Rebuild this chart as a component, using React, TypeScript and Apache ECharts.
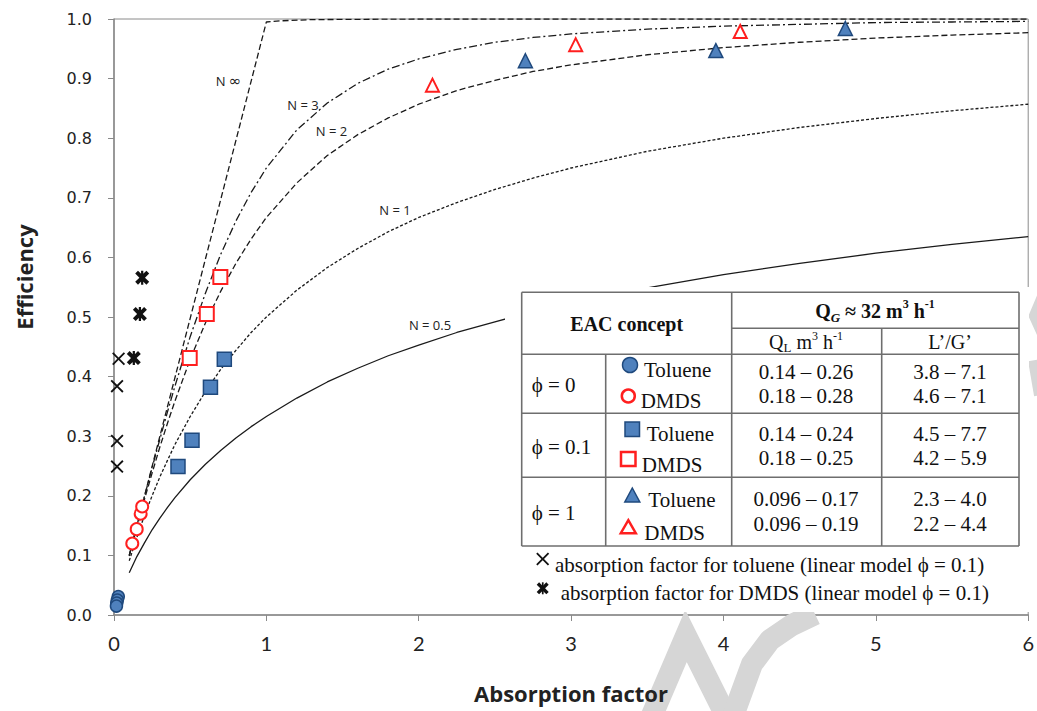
import React, { useEffect, useRef } from "react";
import * as echarts from "echarts";

// ---------- data ----------
const absorptionFactor = [0.1, 0.15, 0.2, 0.25, 0.3, 0.35, 0.4, 0.5, 0.6, 0.7, 0.8, 0.9, 1, 1.2, 1.4, 1.6, 1.8, 2, 2.25, 2.5, 2.75, 3, 3.5, 4, 4.5, 5, 5.5, 6];
const effN05 = [0.071, 0.098, 0.121, 0.143, 0.162, 0.18, 0.197, 0.227, 0.253, 0.276, 0.297, 0.316, 0.333, 0.364, 0.391, 0.414, 0.435, 0.453, 0.474, 0.492, 0.509, 0.523, 0.549, 0.571, 0.59, 0.607, 0.622, 0.635];
const effN1 = [0.091, 0.13, 0.167, 0.2, 0.231, 0.259, 0.286, 0.333, 0.375, 0.412, 0.444, 0.474, 0.5, 0.545, 0.583, 0.615, 0.643, 0.667, 0.692, 0.714, 0.733, 0.75, 0.778, 0.8, 0.818, 0.833, 0.846, 0.857];
const effN2 = [0.099, 0.147, 0.194, 0.238, 0.281, 0.321, 0.359, 0.429, 0.49, 0.543, 0.59, 0.631, 0.667, 0.725, 0.771, 0.806, 0.834, 0.857, 0.88, 0.897, 0.912, 0.923, 0.94, 0.952, 0.961, 0.968, 0.973, 0.977];
const effN3 = [0.1, 0.15, 0.199, 0.247, 0.294, 0.34, 0.384, 0.467, 0.54, 0.605, 0.661, 0.709, 0.75, 0.814, 0.859, 0.892, 0.916, 0.933, 0.949, 0.961, 0.969, 0.975, 0.983, 0.988, 0.991, 0.994, 0.995, 0.996];
const absInf = [0.1, 1.0, 1.1, 1.3, 2, 6];
const effInf = [0.1, 0.995, 0.997, 0.999, 1, 1];

const tolPhi0 = [[0.028, 0.031], [0.022, 0.025], [0.018, 0.02], [0.016, 0.015]];
const dmdsPhi0 = [[0.12, 0.12], [0.149, 0.144], [0.175, 0.17], [0.185, 0.182]];
const tolPhi01 = [[0.42, 0.249], [0.512, 0.293], [0.633, 0.382], [0.724, 0.429]];
const dmdsPhi01 = [[0.497, 0.431], [0.609, 0.505], [0.698, 0.567]];
const tolPhi1 = [[2.7, 0.93], [3.95, 0.947], [4.8, 0.984]];
const dmdsPhi1 = [[2.09, 0.889], [3.03, 0.957], [4.11, 0.979]];
const tolLinear = [[0.03, 0.43], [0.02, 0.384], [0.02, 0.292], [0.02, 0.249]];
const dmdsLinear = [[0.13, 0.431], [0.17, 0.505], [0.185, 0.566]];

const xTicks = [0, 1, 2, 3, 4, 5, 6];
const curveLabels = ["{n|N }{i|\u221E}", "N = 3", "N = 2", "N = 1", "N = 0.5"];

const tableRows = [
  { phi: "\u03D5 = 0", ql: ["0.14 \u2013 0.26", "0.18 \u2013 0.28"], lg: ["3.8 \u2013 7.1", "4.6 \u2013 7.1"] },
  { phi: "\u03D5 = 0.1", ql: ["0.14 \u2013 0.24", "0.18 \u2013 0.25"], lg: ["4.5 \u2013 7.7", "4.2 \u2013 5.9"] },
  { phi: "\u03D5 = 1", ql: ["0.096 \u2013 0.17", "0.096 \u2013 0.19"], lg: ["2.3 \u2013 4.0", "2.2 \u2013 4.4"] },
];
const legendNotes = [
  "absorption factor for toluene (linear model \u03D5 = 0.1)",
  "absorption factor for DMDS (linear model \u03D5 = 0.1)",
];

// ---------- styles ----------
const BLUE = "#4F81BD";
const BLUE_DARK = "#1F497D";
const RED = "#FF1F1F";
const LINE = "#1a1a1a";
const SERIF = "'Liberation Serif', 'Times New Roman', serif";
const SANS = "'Open Sans', sans-serif";

const X_THIN = "path://M0,1L1,0L5,4L9,0L10,1L6,5L10,9L9,10L5,6L1,10L0,9L4,5Z";
const X_BOLD = "path://M0,2L2,0L5,3L8,0L10,2L7,5L10,8L8,10L5,7L2,10L0,8L3,5Z M4.2,0L5.8,0L5.8,10L4.2,10Z";
const X_THIN_PTS = [[0, 1], [1, 0], [5, 4], [9, 0], [10, 1], [6, 5], [10, 9], [9, 10], [5, 6], [1, 10], [0, 9], [4, 5]];
const X_BOLD_PTS = [[0, 2], [2, 0], [5, 3], [8, 0], [10, 2], [7, 5], [10, 8], [8, 10], [5, 7], [2, 10], [0, 8], [3, 5]];

function zip(xs: number[], ys: number[]) {
  return xs.map((x, i) => [x, ys[i]]);
}

function txt(text: string, x: number, y: number, o: any = {}) {
  const align = o.align || "left";
  return {
    type: "text",
    x,
    y,
    z: 60,
    rotation: o.rotation || 0,
    style: {
      text,
      fill: o.fill || "#111",
      fontSize: o.size || 21,
      fontFamily: o.family || SERIF,
      fontWeight: o.weight || "normal",
      align,
      textAlign: align,
      verticalAlign: "middle",
      textVerticalAlign: "middle",
      rich: o.rich,
    },
  };
}
function ln(x1: number, y1: number, x2: number, y2: number) {
  return {
    type: "line",
    z: 60,
    shape: { x1, y1, x2, y2 },
    style: { stroke: "#6e6e6e", lineWidth: 1.6 },
  };
}
function polyX(cx: number, cy: number, size: number, pts: number[][]) {
  return {
    type: "polygon",
    z: 60,
    shape: { points: pts.map(([px, py]) => [cx - size / 2 + (px * size) / 10, cy - size / 2 + (py * size) / 10]) },
    style: { fill: "#111" },
  };
}
function tri(cx: number, cy: number, w: number, h: number, fill: string, stroke: string, lw: number) {
  return {
    type: "polygon",
    z: 60,
    shape: { points: [[cx, cy - h / 2], [cx + w / 2, cy + h / 2], [cx - w / 2, cy + h / 2]] },
    style: { fill, stroke, lineWidth: lw },
  };
}

export default function App() {
  const ref = useRef<HTMLDivElement>(null);
  useEffect(() => {
    if (!ref.current) return;
    const chart = echarts.init(ref.current, null, { renderer: "svg" });

    const lineSeries = (name: string, data: number[][], type: any) => ({
      name,
      type: "line",
      data,
      symbol: "none",
      smooth: false,
      z: 2,
      lineStyle: { color: LINE, width: 1.3, type },
    });
    const scat = (name: string, data: number[][], symbol: string, size: number, fill: string, stroke: string, bw: number) => ({
      name,
      type: "scatter",
      data,
      symbol,
      symbolSize: size,
      z: 5,
      itemStyle: { color: fill, borderColor: stroke, borderWidth: bw, opacity: 1 },
    });

    // ---- table graphic ----
    const L = 521.7, R = 1019, T = 292.3, B = 546;
    const c1 = 605.7, c2 = 731.7, c3 = 881.7;
    const h1 = 328.3, h2 = 354.3, r1 = 413.3, r2 = 477.3;
    const rowPhiY = [385.3, 447.3, 512.7];
    const tolY = [370, 434, 500];
    const tolX = [644, 646.7, 648.3];
    const dmY = [400.7, 465, 533.3];
    const dmX = [640.7, 641.7, 644.3];
    const valY = [[371.7, 396], [434, 458.3], [499.3, 523.7]];

    const g: any[] = [];
    // watermark fragments
    const WM = "#d6d6d6";
    g.push({ type: "polyline", z: 1, shape: { points: [[650, 720], [686, 636], [728, 720]] }, style: { stroke: WM, lineWidth: 22, fill: null, lineJoin: "miter" } });
    g.push({ type: "polyline", z: 1, shape: { points: [[733, 716], [752, 664], [770, 640], [792, 625], [815, 614]] }, style: { stroke: WM, lineWidth: 22, fill: null, lineJoin: "round" } });
    g.push({ type: "polyline", z: 1, shape: { points: [[1046, 292], [1036, 316], [1046, 338]] }, style: { stroke: WM, lineWidth: 14, fill: null } });
    g.push({ type: "polyline", z: 1, shape: { points: [[1035, 360], [1041, 395]] }, style: { stroke: WM, lineWidth: 14, fill: null } });

    g.push({ type: "rect", z: 55, shape: { x: 505, y: 287, width: 524, height: 325 }, style: { fill: "#fff" } });
    g.push(ln(L, T, R, T), ln(L, B, R, B), ln(L, T, L, B), ln(R, T, R, B));
    g.push(ln(c2, h1, R, h1), ln(L, h2, R, h2), ln(L, r1, R, r1), ln(L, r2, R, r2));
    g.push(ln(c1, h2, c1, B), ln(c2, T, c2, B), ln(c3, h1, c3, B));

    g.push(txt("EAC concept", 626.7, 323.5, { weight: "bold", size: 20, align: "center" }));
    g.push(
      txt("{b|Q}{bs|G}{b| \u2248 32 m}{bp|3}{b| h}{bp|-1}", 875, 311, {
        align: "center",
        rich: {
          b: { fontFamily: SERIF, fontWeight: "bold", fontSize: 20, lineHeight: 26, verticalAlign: "middle" },
          bs: { fontFamily: SERIF, fontWeight: "bold", fontStyle: "italic", fontSize: 13, lineHeight: 13, verticalAlign: "bottom" },
          bp: { fontFamily: SERIF, fontWeight: "bold", fontSize: 12, lineHeight: 12, verticalAlign: "top" },
        },
      })
    );
    g.push(
      txt("{r|Q}{s|L}{r| m}{p|3}{r| h}{p|-1}", 806, 341.7, {
        align: "center",
        rich: {
          r: { fontFamily: SERIF, fontSize: 20, lineHeight: 24, verticalAlign: "middle" },
          s: { fontFamily: SERIF, fontSize: 13, lineHeight: 12, verticalAlign: "bottom" },
          p: { fontFamily: SERIF, fontSize: 12, lineHeight: 12, verticalAlign: "top" },
        },
      })
    );
    g.push(txt("L\u2019/G\u2019", 950, 341.7, { align: "center", size: 20 }));

    tableRows.forEach((row, i) => {
      g.push(txt(row.phi, 531.7, rowPhiY[i]));
      g.push(txt("Toluene", tolX[i], tolY[i]));
      g.push(txt("DMDS", dmX[i], dmY[i]));
      g.push(txt(row.ql[0], 806, valY[i][0], { align: "center" }));
      g.push(txt(row.ql[1], 806, valY[i][1], { align: "center" }));
      g.push(txt(row.lg[0], 950, valY[i][0], { align: "center" }));
      g.push(txt(row.lg[1], 950, valY[i][1], { align: "center" }));
    });
    // table icons
    g.push({ type: "circle", z: 60, shape: { cx: 630, cy: 365, r: 7.5 }, style: { fill: BLUE, stroke: BLUE_DARK, lineWidth: 1.5 } });
    g.push({ type: "circle", z: 60, shape: { cx: 628.3, cy: 396, r: 6.5 }, style: { fill: "#fff", stroke: RED, lineWidth: 2.5 } });
    g.push({ type: "rect", z: 60, shape: { x: 625, y: 422, width: 14.5, height: 14.5 }, style: { fill: BLUE, stroke: BLUE_DARK, lineWidth: 1.5 } });
    g.push({ type: "rect", z: 60, shape: { x: 621, y: 452, width: 14.5, height: 14 }, style: { fill: "#fff", stroke: RED, lineWidth: 2.5 } });
    g.push(tri(632.3, 495, 15, 14, BLUE, BLUE_DARK, 1.5));
    g.push(tri(628.3, 526.7, 15, 13, "#fff", RED, 2.5));
    // legend notes
    g.push(polyX(542.7, 559, 13, X_THIN_PTS));
    g.push(polyX(542.7, 588.3, 12, X_BOLD_PTS));
    g.push({ type: "rect", z: 60, shape: { x: 541.9, y: 582.3, width: 1.7, height: 12 }, style: { fill: "#111" } });
    g.push(txt(legendNotes[0], 555, 565));
    g.push(txt(legendNotes[1], 560.7, 593.3));

    // curve labels
    const labelPos = [[228.5, 81], [303, 104.5], [331.5, 130.5], [395, 210], [430, 325]];
    curveLabels.forEach((t, i) =>
      g.push(
        txt(t, labelPos[i][0], labelPos[i][1], {
          align: "center",
          size: 13,
          family: SANS,
          fill: "#222",
          rich: {
            n: { fontFamily: SANS, fontSize: 13, fill: "#222" },
            i: { fontFamily: "'DejaVu Sans', sans-serif", fontSize: 15, fill: "#222" },
          },
        })
      )
    );
    // axis titles
    g.push(txt("Efficiency", 24, 277, { align: "center", size: 22, weight: "bold", family: SANS, rotation: Math.PI / 2, fill: "#222" }));
    g.push(txt("Absorption factor", 571, 693, { align: "center", size: 22, weight: "bold", family: SANS, fill: "#222" }));

    chart.setOption({
      animation: false,
      backgroundColor: "#fff",
      grid: { left: 114, right: 6, top: 19, bottom: 96, show: true, borderColor: "#8a8a8a", borderWidth: 1 },
      xAxis: {
        type: "value",
        min: xTicks[0],
        max: xTicks[xTicks.length - 1],
        interval: 1,
        axisLine: { show: true, lineStyle: { color: "#8a8a8a", width: 1.5 } },
        axisTick: { show: true, length: 6, lineStyle: { color: "#8a8a8a" } },
        splitLine: { show: false },
        axisLabel: { color: "#222", fontSize: 20, fontFamily: "Lato, sans-serif", margin: 18 },
      },
      yAxis: {
        type: "value",
        min: 0,
        max: 1,
        interval: 0.1,
        axisLine: { show: true, lineStyle: { color: "#8a8a8a", width: 1.5 } },
        axisTick: { show: true, length: 6, lineStyle: { color: "#8a8a8a" } },
        splitLine: { show: false },
        axisLabel: {
          color: "#222",
          fontSize: 16,
          fontFamily: "'DejaVu Sans', sans-serif",
          margin: 22,
          formatter: (v: number) => v.toFixed(1),
        },
      },
      series: [
        lineSeries("N inf", zip(absInf, effInf), [6, 3]),
        lineSeries("N = 3", zip(absorptionFactor, effN3), [8, 3, 2, 3]),
        lineSeries("N = 2", zip(absorptionFactor, effN2), [6, 3]),
        lineSeries("N = 1", zip(absorptionFactor, effN1), [3, 2]),
        lineSeries("N = 0.5", zip(absorptionFactor, effN05), "solid"),
        scat("Toluene phi=0", tolPhi0, "circle", 12, BLUE, BLUE_DARK, 1.5),
        scat("DMDS phi=0", dmdsPhi0, "circle", 12, "#fff", RED, 2),
        scat("Toluene phi=0.1", tolPhi01, "rect", 14, BLUE, BLUE_DARK, 1.5),
        scat("DMDS phi=0.1", dmdsPhi01, "rect", 14, "#fff", RED, 2),
        scat("Toluene phi=1", tolPhi1, "triangle", 14, BLUE, BLUE_DARK, 1.5),
        scat("DMDS phi=1", dmdsPhi1, "triangle", 13, "#fff", RED, 2),
        scat("Toluene linear", tolLinear, X_THIN, 13, "#111", "#111", 0),
        scat("DMDS linear", dmdsLinear, X_BOLD, 14, "#111", "#111", 0),
      ],
      graphic: { elements: g },
    });
    return () => chart.dispose();
  }, []);
  return <div ref={ref} style={{ position: "fixed", left: 0, top: 0, width: 1037, height: 711, background: "#fff" }} />;
}
